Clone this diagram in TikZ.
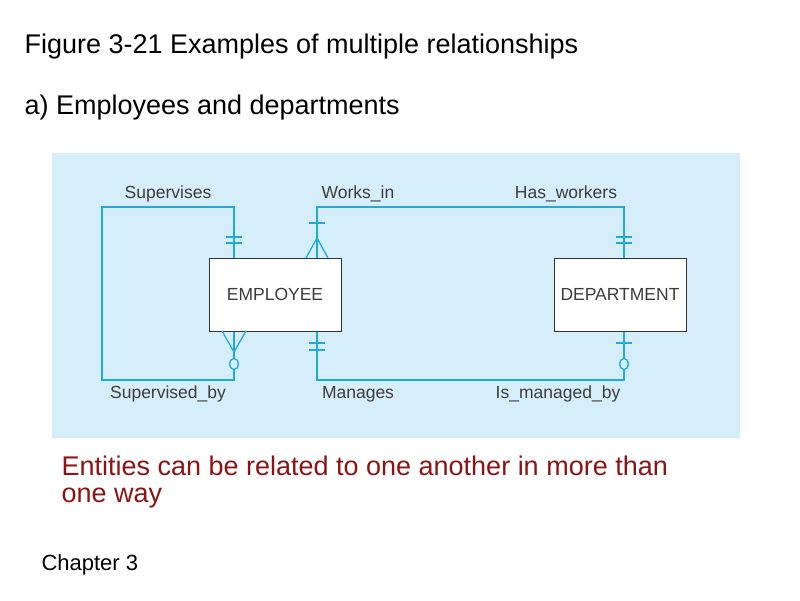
\documentclass[tikz,border=0pt]{standalone}
\usepackage{fontspec}
\setmainfont{Liberation Sans}
\definecolor{bgblue}{RGB}{214,238,250}
\definecolor{lnblue}{RGB}{30,170,220}
\definecolor{lblgray}{RGB}{60,60,60}
\definecolor{darkred}{RGB}{140,20,20}
\begin{document}
\begin{tikzpicture}[x=1pt,y=-1pt,
  ent/.style={draw=black!80,fill=white,line width=1pt,minimum width=132pt,minimum height=73pt,inner sep=0pt,font=\fontsize{17.5}{20}\selectfont,text=lblgray},
  rel/.style={draw=lnblue,line width=1.3pt},
  lbl/.style={font=\fontsize{17.5}{20}\selectfont,text=lblgray},
  big/.style={font=\fontsize{27}{31}\selectfont,anchor=west}]
\useasboundingbox (0,0) rectangle (800,600);
\fill[white] (0,0) rectangle (800,600);
\fill[bgblue] (52,153) rectangle (740,438);
\node[big] (title) at (21,47) {Figure 3-21 Examples of multiple relationships};
\node[big] (sub) at (21,108) {a) Employees and departments};
\node[ent] (emp) at (275,294.5) {EMPLOYEE};
\node[ent] (dep) at (620,294.5) {DEPARTMENT};
\coordinate (s1) at (234,207); \coordinate (s2) at (102,207);
\coordinate (s3) at (102,380); \coordinate (s4) at (234,380);
\coordinate (w1) at (317,207); \coordinate (w2) at (624,207);
\coordinate (m1) at (317,380); \coordinate (m2) at (624,380);
\draw[rel] (emp.north -| s1) -- (s1) -- (s2) -- (s3) -- (s4) -- (emp.south -| s4);
\draw[rel] (emp.north -| w1) -- (w1) -- (w2) -- (dep.north -| w2);
\draw[rel] (emp.south -| m1) -- (m1) -- (m2) -- (dep.south -| m2);
\draw[rel] (226,237) -- (242,237) (226,243) -- (242,243);
\draw[rel] (309,223) -- (325,223);
\draw[rel] (306,258) -- (317,238) -- (328,258);
\draw[rel] (222,331) -- (234,352) -- (246,331);
\draw[rel,fill=bgblue] (234,364) ellipse (4.5 and 5.5);
\draw[rel] (309,343) -- (325,343) (309,350) -- (325,350);
\draw[rel] (616,237) -- (632,237) (616,243) -- (632,243);
\draw[rel] (616,343) -- (632,343);
\draw[rel,fill=bgblue] (624,364) ellipse (4.5 and 5.5);
\node[lbl] (l1) at (168,194) {Supervises};
\node[lbl] (l2) at (358,194) {Works\_in};
\node[lbl] (l3) at (566,194) {Has\_workers};
\node[lbl] (l4) at (168,394) {Supervised\_by};
\node[lbl] (l5) at (358,394) {Manages};
\node[lbl] (l6) at (558,394) {Is\_managed\_by};
\node[big,text=darkred] (n1) at (58,466) {Entities can be related to one another in more than};
\node[big,text=darkred] (n2) at (58,498) {one way};
\node[anchor=west,font=\fontsize{22}{26}\selectfont] (ch) at (38,565) {Chapter 3};
\end{tikzpicture}
\end{document}
